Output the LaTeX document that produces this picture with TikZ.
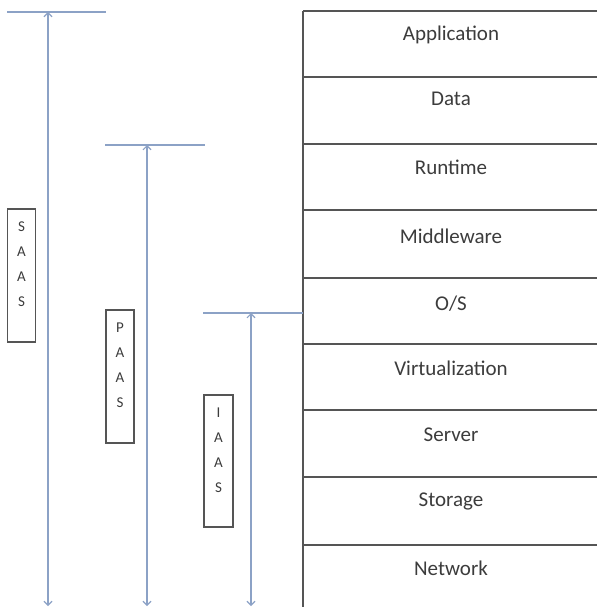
\documentclass[tikz,border=0pt]{standalone}
\usepackage{fontspec}
\setmainfont{Carlito}
\usetikzlibrary{arrows.meta}
\definecolor{rulegray}{RGB}{85,85,85}
\definecolor{textgray}{RGB}{60,60,60}
\definecolor{spanblue}{RGB}{140,162,198}
\tikzset{
  layertext/.style={text=textgray, font=\fontsize{21}{25}\selectfont, inner sep=0pt},
  layerrule/.style={draw=rulegray, line width=1.3pt},
  spanarrow/.style={draw=spanblue, line width=1.1pt,
    {Straight Barb[length=4pt,width=8pt]}-{Straight Barb[length=4pt,width=8pt]}},
  spancap/.style={draw=spanblue, line width=1.1pt},
  tagbox/.style={draw=rulegray, line width=1.1pt, inner sep=0pt, text=textgray,
    font=\fontsize{15}{25}\selectfont},
}
\newcommand{\tagletters}[1]{\parbox[c][131pt][t]{26pt}{\centering\vspace*{12pt}#1}}
\begin{document}
\begin{tikzpicture}[x=1pt,y=-1pt]
\useasboundingbox (0,0) rectangle (597,607);
\fill[white] (0,0) rectangle (597,607);

% layer stack on the right
\coordinate (stackNW) at (303,11);
\coordinate (stackSW) at (303,607);
\draw[layerrule] (stackNW) -- (stackSW);
\foreach \y in {11,77,144,210,278,344,410,477,545}
  \draw[layerrule] (303,\y) -- (597,\y);

\node[layertext] (app)  at (451,35)  {Application};
\node[layertext] (data) at (451,99)  {Data};
\node[layertext] (rt)   at (451,167) {Runtime};
\node[layertext] (mw)   at (451,236) {Middleware};
\node[layertext] (os)   at (451,304) {O/S};
\node[layertext] (virt) at (451,368) {Virtualization};
\node[layertext] (srv)  at (451,435) {Server};
\node[layertext] (sto)  at (451,501) {Storage};
\node[layertext] (net)  at (451,568) {Network};

% SaaS span
\coordinate (saasL) at (7,12);
\coordinate (saasR) at (106,12);
\coordinate (saasTop) at (48,12);
\coordinate (saasBot) at (48,606);
\draw[spancap] (saasL) -- (saasR);
\draw[spanarrow] (saasTop) -- (saasBot);
\node[tagbox, minimum width=28pt, minimum height=133pt] (saas) at (21.5,275.5)
  {\tagletters{S\\A\\A\\S}};

% PaaS span
\coordinate (paasL) at (105,145);
\coordinate (paasR) at (205,145);
\coordinate (paasTop) at (147,145);
\coordinate (paasBot) at (147,606);
\draw[spancap] (paasL) -- (paasR);
\draw[spanarrow] (paasTop) -- (paasBot);
\node[tagbox, minimum width=28pt, minimum height=133pt] (paas) at (120,376.5)
  {\tagletters{P\\A\\A\\S}};

% IaaS span
\coordinate (iaasL) at (203,313);
\coordinate (iaasR) at (303,313);
\coordinate (iaasTop) at (251,313);
\coordinate (iaasBot) at (251,606);
\draw[spancap] (iaasL) -- (iaasR);
\draw[spanarrow] (iaasTop) -- (iaasBot);
\node[tagbox, minimum width=29pt, minimum height=132pt] (iaas) at (218.5,461)
  {\tagletters{I\\A\\A\\S}};
\end{tikzpicture}
\end{document}
